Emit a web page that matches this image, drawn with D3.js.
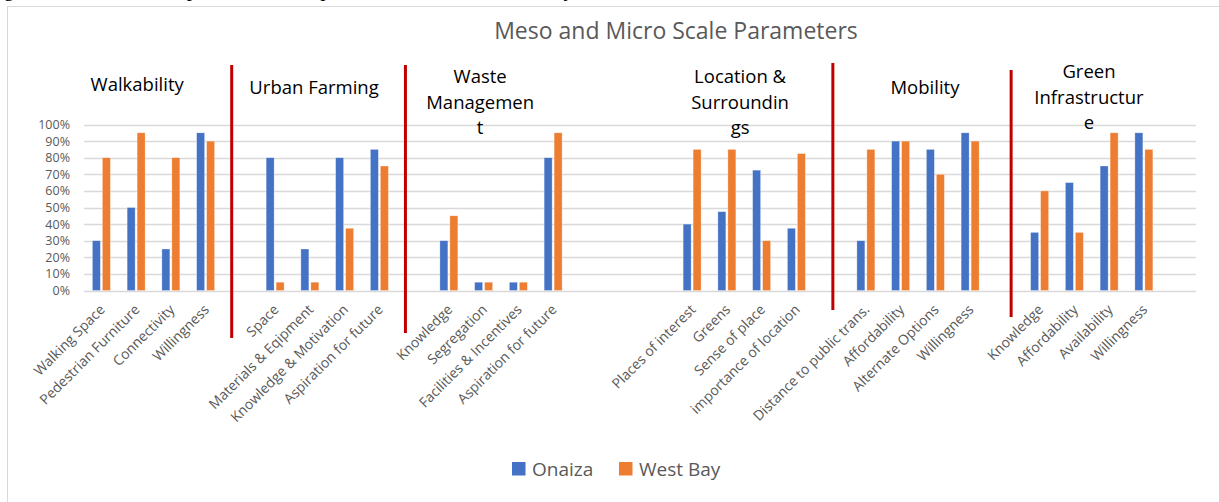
<!DOCTYPE html>
<html>
<head>
<meta charset="utf-8">
<script src="https://cdn.jsdelivr.net/npm/d3@7"></script>
<style>
  body { margin: 0; background: #fff; }
  svg { display: block; }
</style>
</head>
<body>
<div id="chart"></div>
<script>
// categories, "" = empty spacer slot
const categories = [
  "Walking Space", "Pedestrian Furniture", "Connectivity", "Willingness", "",
  "Space", "Materials & Eqipment", "Knowledge & Motivation", "Aspiration for future", "",
  "Knowledge", "Segregation", "Facilities & Incentives", "Aspiration for future", "", "", "",
  "Places of interest", "Greens", "Sense of place", "importance of location", "",
  "Distance to public trans.", "Affordability", "Alternate Options", "Willingness", "",
  "Knowledge", "Affordability", "Availability", "Willingness", ""
];
const series = ["Onaiza", "West Bay"];
const onaiza = [0.30, 0.50, 0.25, 0.95, null, 0.80, 0.25, 0.80, 0.85, null,
  0.30, 0.05, 0.05, 0.80, null, null, null, 0.40, 0.475, 0.725, 0.375, null,
  0.30, 0.90, 0.85, 0.95, null, 0.35, 0.65, 0.75, 0.95, null];
const westBay = [0.80, 0.95, 0.80, 0.90, null, 0.05, 0.05, 0.375, 0.75, null,
  0.45, 0.05, 0.05, 0.95, null, null, null, 0.85, 0.85, 0.30, 0.825, null,
  0.85, 0.90, 0.70, 0.90, null, 0.60, 0.35, 0.95, 0.85, null];
const yTicks = [0, 0.1, 0.2, 0.3, 0.4, 0.5, 0.6, 0.7, 0.8, 0.9, 1.0];
const chartTitle = "Meso and Micro Scale Parameters";
const groupTitles = [
  ["Walkability"], ["Urban Farming"], ["Waste", "Managemen", "t"],
  ["Location &", "Surroundin", "gs"], ["Mobility"], ["Green", "Infrastructur", "e"]
];

// layout of the hand-placed annotations (slot position, px)
const titleLayout = [
  {s: 1.53, y: 91}, {s: 6.62, y: 94}, {s: 11.4, y: 83},
  {s: 18.88, y: 83}, {s: 24.2, y: 94}, {s: 28.92, y: 78}
];
const sepLayout = [
  {s: 4.25, y1: 65, y2: 338}, {s: 9.25, y1: 65, y2: 333},
  {s: 21.55, y1: 63, y2: 310}, {s: 26.68, y1: 70, y2: 317}
];

const W = 1219, H = 502;
const colors = {"Onaiza": "#4472C4", "West Bay": "#ED7D31"};
const grey = "#595959";
const font = "'Open Sans', sans-serif";

const svg = d3.select("#chart").append("svg")
  .attr("width", W).attr("height", H);

// text line of the page above, cut off
svg.append("text")
  .attr("x", -14).attr("y", -4)
  .attr("font-family", "'Liberation Serif', serif")
  .attr("font-size", 21)
  .attr("fill", "#000")
  .text("Figure 9: Evaluation of parameters compared to Onaiza and West Bay.");

// chart frame
svg.append("rect")
  .attr("x", 7.5).attr("y", 6.5)
  .attr("width", 1300).attr("height", 600)
  .attr("fill", "#fff")
  .attr("stroke", "#d9d9d9");

const x = d3.scaleBand()
  .domain(d3.range(categories.length))
  .range([84, 1196]);
const xPos = d3.scaleLinear().domain([0, categories.length]).range([84, 1196]);
const xSub = d3.scaleBand()
  .domain(series)
  .range([0, x.bandwidth()])
  .paddingInner(0.2)
  .paddingOuter(0.84);
const y = d3.scaleLinear().domain([0, 1]).range([290.5, 124.5]);

// gridlines
svg.append("g")
  .selectAll("line")
  .data(yTicks)
  .enter()
  .append("line")
  .attr("x1", 84).attr("x2", 1196)
  .attr("y1", d => Math.round(y(d)) + 0.5)
  .attr("y2", d => Math.round(y(d)) + 0.5)
  .attr("stroke", "#d9d9d9")
  .attr("stroke-width", 1.3);

// y axis labels
const yAxis = svg.append("g")
  .attr("transform", "translate(84,0)")
  .call(d3.axisLeft(y).tickValues(yTicks).tickFormat(d3.format(".0%")).tickSize(0).tickPadding(14));
yAxis.select(".domain").remove();
yAxis.selectAll("text")
  .attr("font-family", font)
  .attr("font-size", 12.5)
  .attr("fill", grey);

// bars
const rows = categories.map((c, i) => ({i: i, vals: [onaiza[i], westBay[i]]}));
svg.append("g")
  .selectAll("g")
  .data(rows)
  .enter()
  .append("g")
  .attr("transform", d => "translate(" + x(d.i) + ",0)")
  .selectAll("rect")
  .data(d => series.map((s, k) => ({s: s, v: d.vals[k]})).filter(e => e.v != null))
  .enter()
  .append("rect")
  .attr("x", d => xSub(d.s))
  .attr("width", xSub.bandwidth())
  .attr("y", d => y(d.v))
  .attr("height", d => y(0) - y(d.v))
  .attr("fill", d => colors[d.s])
  .attr("stroke", "#fff")
  .attr("stroke-opacity", 0.5)
  .attr("stroke-width", 0.6);

// x labels
svg.append("g")
  .selectAll("text")
  .data(rows.filter(d => categories[d.i] !== ""))
  .enter()
  .append("text")
  .attr("transform", d => "translate(" + (x(d.i) + x.bandwidth() / 2 + 1) + ",307) rotate(-45)")
  .attr("text-anchor", "end")
  .attr("dy", "0.35em")
  .attr("font-family", font)
  .attr("font-size", 14)
  .attr("fill", grey)
  .text(d => categories[d.i]);

// separators
svg.append("g")
  .selectAll("line")
  .data(sepLayout)
  .enter()
  .append("line")
  .attr("x1", d => xPos(d.s)).attr("x2", d => xPos(d.s))
  .attr("y1", d => d.y1).attr("y2", d => d.y2)
  .attr("stroke", "#C00000")
  .attr("stroke-width", 3);

// group titles
const gt = svg.append("g")
  .selectAll("text")
  .data(groupTitles.map((lines, k) => ({lines: lines, l: titleLayout[k]})))
  .enter()
  .append("text")
  .attr("text-anchor", "middle")
  .attr("font-family", font)
  .attr("font-size", 18.5)
  .attr("fill", "#000");
gt.selectAll("tspan")
  .data(d => d.lines.map((t, j) => ({t: t, x: xPos(d.l.s), y: d.l.y + j * 25.5})))
  .enter()
  .append("tspan")
  .attr("x", d => d.x)
  .attr("y", d => d.y)
  .text(d => d.t);

// title
svg.append("text")
  .attr("x", 676).attr("y", 39)
  .attr("text-anchor", "middle")
  .attr("font-family", font)
  .attr("font-size", 23)
  .attr("fill", grey)
  .text(chartTitle);

// legend
const legend = svg.append("g")
  .selectAll("g")
  .data(series)
  .enter()
  .append("g")
  .attr("transform", (d, k) => "translate(" + [512, 619][k] + ",462)");
legend.append("rect")
  .attr("width", 13.5).attr("height", 13.5)
  .attr("fill", d => colors[d]);
legend.append("text")
  .attr("x", 20).attr("y", 14)
  .attr("font-family", font)
  .attr("font-size", 19)
  .attr("fill", grey)
  .text(d => d);
</script>
</body>
</html>
